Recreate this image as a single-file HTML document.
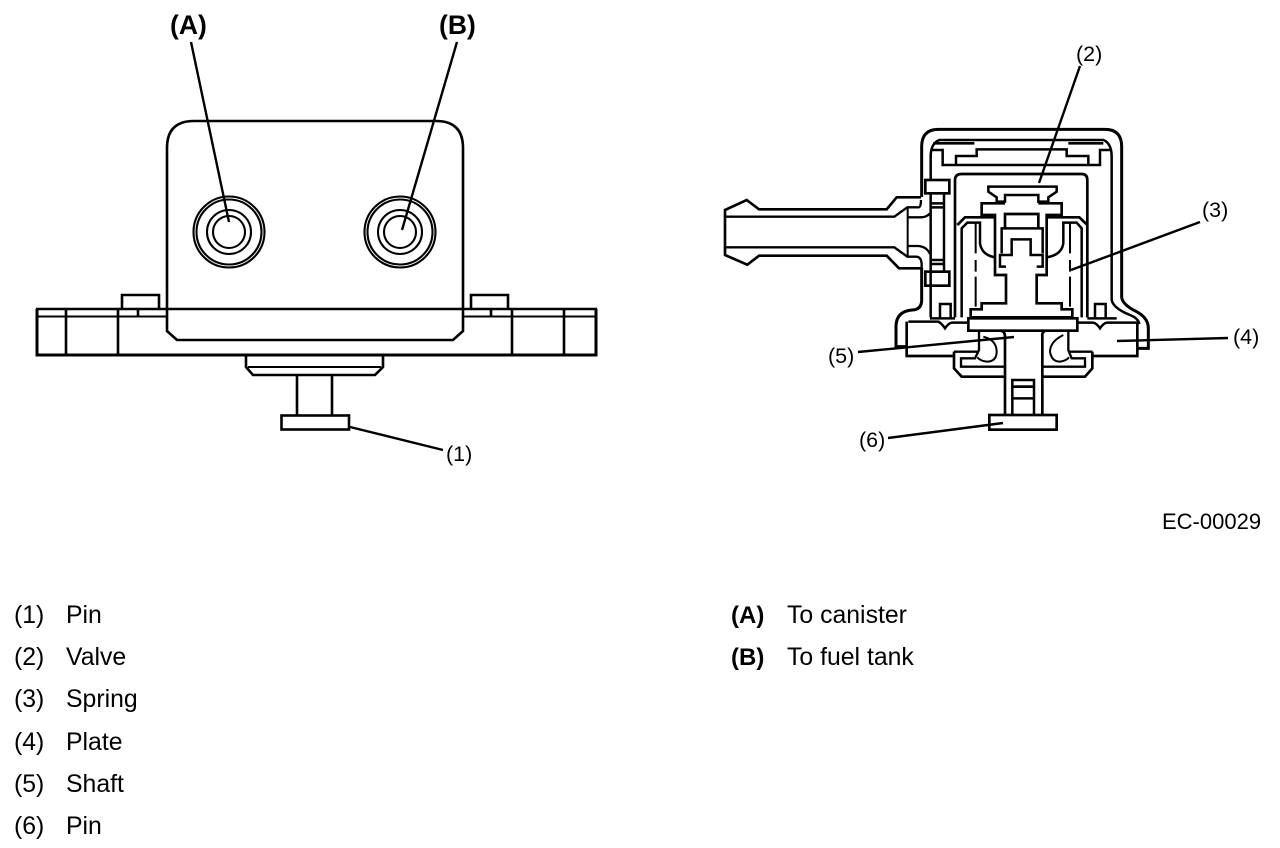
<!DOCTYPE html>
<html><head><meta charset="utf-8"><style>
html,body{margin:0;padding:0;background:#fff}
svg{display:block}
text{font-family:"Liberation Sans",sans-serif;fill:#000}
</style></head><body>
<svg width="1280" height="848" viewBox="0 0 1280 848" xmlns="http://www.w3.org/2000/svg">
<g fill="none" stroke="#000" stroke-width="2.6" stroke-linejoin="miter">
<!-- left view -->
<path d="M167 309V148Q167 121 194 121H436Q463 121 463 148V331L453 340H177L167 331V309" stroke-width="2.6"/>
<path d="M37 355V309M596 309V355M35.500 355H597.500" stroke-width="3"/>
<path d="M36 309H597" stroke-width="2.4"/>
<path d="M37 316.500H167M463 316.500H596" stroke-width="2"/>
<path d="M66 309V355M118 309V355M512 309V355M564 309V355M138 309V316M491 309V316"/>
<path d="M122 309V295H159V309M471 309V295H508V309"/>
<path d="M246 355V367L253 375H375L383 367V355"/>
<path d="M248 367H381" stroke-width="2"/>
<path d="M297 375V415M332 375V415"/>
<rect x="281.500" y="415.500" width="67.500" height="14"/>
<g stroke-width="2.100">
<circle cx="229" cy="232" r="35.500"/><circle cx="229" cy="232" r="32.500"/><circle cx="229" cy="232" r="22"/><circle cx="229" cy="232" r="16"/>
<circle cx="400" cy="232" r="35.500"/><circle cx="400" cy="232" r="32.500"/><circle cx="400" cy="232" r="22"/><circle cx="400" cy="232" r="16"/>
</g>
<path d="M191 42L229 222M457 42L402 230M350 427L443 450" stroke-width="2.400"/>
<!-- hose -->
<g transform="translate(700,110) scale(.33333)" stroke-width="8">
<path d="M663 262H590L560 298H177L140 270L75 300V435L142 464L177 437H560L597 475H663"/>
<path d="M75 320H583L622 292H655Q663 292 663 270M75 412H583L622 440H650Q665 442 665 465V480" stroke-width="7"/>
<path d="M623 292V440" stroke-width="6"/>
<path d="M625 322H660Q680 322 690 310M625 408H655Q680 410 690 432" stroke-width="7"/>
</g>
<!-- right view body -->
<g transform="translate(880,120) scale(.33333)" stroke-width="7.500">
<path d="M125 231V80Q125 28 175 28H675Q725 28 725 80V530Q725 550 760 570Q805 590 805 625V685H775" stroke-width="9"/>
<path d="M125 444V540Q125 570 95 570Q48 575 48 620V680H80" stroke-width="9"/>
<path d="M152 180V110Q152 70 178 60H670Q695 70 695 110V540Q700 565 750 585Q775 595 778 612"/>
<path d="M152 220V590M192 220V452M152 497V592"/>
<path d="M155 250H192M155 262H192M155 420H192M155 432H192"/>
<rect x="136" y="180" width="72" height="40" stroke-width="8"/>
<rect x="136" y="455" width="72" height="42" stroke-width="8"/>
<path d="M152 90H188V135H660V90H695"/>
<path d="M228 135V108H290V88H560V108H625V135"/>
<path d="M160 70H283M565 70H670" stroke-width="8"/>
<path d="M225 592V180Q225 162 245 162H605Q622 162 622 180V592" stroke-width="8"/>
<path d="M325 200H530V215L505 232V245H475V225H375V245H350V232L325 215Z" stroke-width="7.500"/>
<path d="M375 250H305V285H345V465H378V550H305V568H272V592M475 250H545V285H500V465H470V550H545V568H577V592" stroke-width="8"/>
<path d="M375 325V282H475V325" stroke-width="8"/>
<path d="M365 400V325H488V400"/>
<path d="M378 440H360V405H395V358H452V405H488V440H470"/>
<path d="M232 315L255 292H345M500 292H598L622 315" stroke-width="8"/>
<path d="M245 592V325L262 308H300V370Q305 405 345 412M605 592V325L590 308H550V370Q545 405 500 412" stroke-width="7.500"/>
<path d="M287 310V400M287 420V455M287 470V560M570 310V400M570 420V455M570 470V560" stroke-width="6"/>
<path d="M180 595V552H212V595M645 595V552H677V595"/>
<path d="M272 592H577" stroke-width="8"/>
<path d="M150 595H225M622 595H710"/>
<!-- bottom section -->
<path d="M80 605V708H220M772 610V708H637" stroke-width="8"/>
<path d="M85 605H175Q185 610 195 625Q205 610 215 608H265M592 608H640Q650 610 660 625Q670 610 680 608H775"/>
<rect x="265" y="595" width="327" height="37" stroke-width="8"/>
<path d="M297 632V690L285 715H243V740H372M565 632V690L575 715H615V740H487" stroke-width="7"/>
<path d="M297 695H222M565 695H637" stroke-width="7"/>
<path d="M222 695V745L245 770H372M637 695V745L615 770H487" stroke-width="8"/>
<path d="M360 632Q375 632 375 650V885M497 632Q485 635 487 650V885" stroke-width="8"/>
<path d="M397 885V780H462V885M397 800H462M397 835H462"/>
<path d="M397 800H462" stroke-width="8"/>
<rect x="328" y="885" width="202" height="44" stroke-width="8"/>
<path d="M310 650Q350 660 350 695Q350 725 320 725Q300 722 292 712M550 645Q510 665 510 695Q515 725 540 725Q560 722 567 712" stroke-width="6"/>
</g>
<!-- right leaders -->
<path d="M1080 66L1039 183M1200 222L1071 270M1228 338L1117 341M858 352L1014 337M888 438L1003 423" stroke-width="2.400"/>
</g>
<g font-size="26.500" font-weight="bold">
<text x="170" y="34">(A)</text>
<text x="439" y="34">(B)</text>
</g>
<g font-size="21.500">
<text x="446" y="461">(1)</text>
<text x="1076" y="61">(2)</text>
<text x="1202" y="217">(3)</text>
<text x="1233" y="344">(4)</text>
<text x="828" y="363">(5)</text>
<text x="859" y="447">(6)</text>
</g>
<text x="1162" y="529" font-size="22">EC-00029</text>
<g font-size="24.800">
<text x="14" y="623">(1)</text><text x="66" y="623">Pin</text>
<text x="14" y="665">(2)</text><text x="66" y="665">Valve</text>
<text x="14" y="707">(3)</text><text x="66" y="707">Spring</text>
<text x="14" y="750">(4)</text><text x="66" y="750">Plate</text>
<text x="14" y="792">(5)</text><text x="66" y="792">Shaft</text>
<text x="14" y="834">(6)</text><text x="66" y="834">Pin</text>
<text x="787" y="623">To canister</text>
<text x="787" y="665">To fuel tank</text>
</g>
<g font-size="24" font-weight="bold">
<text x="731" y="623">(A)</text>
<text x="731" y="665">(B)</text>
</g>
</svg>
</body></html>
